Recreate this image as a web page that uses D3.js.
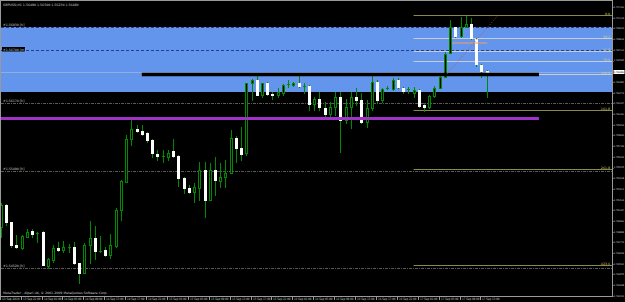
<!DOCTYPE html>
<html><head><meta charset="utf-8">
<script src="https://cdn.jsdelivr.net/npm/d3@7"></script>
<style>html,body{margin:0;padding:0;background:#000;overflow:hidden}</style>
</head><body>
<svg id="c" width="625" height="302"></svg>
<script>
const symbolTitle = "GBPUSD,H1  1.56490 1.56500 1.56230 1.56480";
const copyright = "MetaTrader - Alpari UK, \u00A9 2001-2009 MetaQuotes Software Corp.";
const timeLabels = ["13 Sep 2010","13 Sep 21:00","14 Sep 01:00","14 Sep 05:00","14 Sep 09:00","14 Sep 13:00","14 Sep 17:00","14 Sep 21:00","15 Sep 01:00","15 Sep 05:00","15 Sep 09:00","15 Sep 13:00","15 Sep 17:00","15 Sep 21:00","16 Sep 01:00","16 Sep 05:00","16 Sep 09:00","16 Sep 13:00","16 Sep 17:00","16 Sep 21:00","17 Sep 01:00","17 Sep 05:00","17 Sep 09:00","17 Sep 13:00"];
const timeLabelBars = [0,4,8,12,16,20,24,28,32,36,40,44,48,52,56,60,64,68,72,76,80,84,88,92];

const opens = [1.5493,1.5515,1.5498,1.5475,1.5472,1.5483,1.5489,1.5487,1.5488,1.5454,
1.5460,1.5472,1.5470,1.5473,1.5473,1.5457,1.5447,1.5475,1.5482,1.5469,
1.5470,1.5465,1.5474,1.5510,1.5538,1.5581,1.5591,1.5589,1.5587,1.5580,
1.5566,1.5564,1.5563,1.5569,1.5564,1.5542,1.5532,1.5528,1.5532,1.5550,
1.5520,1.5550,1.5539,1.5543,1.5547,1.5582,1.5572,1.5567,1.5637,1.5640,
1.5625,1.5637,1.5626,1.5625,1.5627,1.5636,1.5635,1.5637,1.5634,1.5634,
1.5616,1.5621,1.5612,1.5606,1.5613,1.5623,1.5600,1.5613,1.5623,1.5620,
1.5598,1.5612,1.5638,1.5620,1.5632,1.5631,1.5640,1.5632,1.5631,1.5627,
1.5630,1.5615,1.5613,1.5624,1.5632,1.5643,1.5667,1.5693,1.5684,1.5693,
1.5696,1.5681,1.5655,1.5649];
const highs = [1.5517,1.5516,1.5498,1.5485,1.5485,1.5491,1.5491,1.5488,1.5489,1.5462,
1.5475,1.5478,1.5479,1.5476,1.5478,1.5457,1.5477,1.5499,1.5494,1.5484,
1.5473,1.5486,1.5512,1.5540,1.5585,1.5602,1.5595,1.5595,1.5588,1.5581,
1.5570,1.5570,1.5570,1.5581,1.5565,1.5543,1.5535,1.5537,1.5558,1.5558,
1.5557,1.5563,1.5557,1.5560,1.5590,1.5584,1.5593,1.5637,1.5641,1.5647,
1.5637,1.5638,1.5628,1.5632,1.5636,1.5640,1.5638,1.5647,1.5637,1.5635,
1.5623,1.5628,1.5618,1.5618,1.5628,1.5628,1.5621,1.5628,1.5632,1.5627,
1.5620,1.5647,1.5640,1.5632,1.5634,1.5642,1.5642,1.5633,1.5633,1.5633,
1.5631,1.5617,1.5625,1.5634,1.5644,1.5668,1.5700,1.5693,1.5703,1.5704,
1.5702,1.5682,1.5656,1.5650];
const lows = [1.5483,1.5495,1.5473,1.5472,1.5471,1.5483,1.5483,1.5478,1.5455,1.5452,
1.5458,1.5469,1.5468,1.5468,1.5456,1.5437,1.5447,1.5457,1.5461,1.5468,
1.5464,1.5462,1.5473,1.5500,1.5538,1.5575,1.5588,1.5585,1.5578,1.5563,
1.5560,1.5558,1.5560,1.5563,1.5534,1.5527,1.5527,1.5518,1.5520,1.5503,
1.5520,1.5525,1.5533,1.5533,1.5547,1.5558,1.5560,1.5565,1.5620,1.5625,
1.5623,1.5625,1.5621,1.5623,1.5625,1.5633,1.5634,1.5633,1.5627,1.5610,
1.5610,1.5610,1.5603,1.5601,1.5605,1.5568,1.5597,1.5592,1.5615,1.5597,
1.5593,1.5610,1.5618,1.5618,1.5631,1.5630,1.5632,1.5627,1.5627,1.5623,
1.5613,1.5609,1.5612,1.5623,1.5632,1.5643,1.5667,1.5683,1.5683,1.5693,
1.5681,1.5654,1.5643,1.5623];
const closes = [1.5515,1.5498,1.5475,1.5473,1.5484,1.5488,1.5486,1.5487,1.5455,1.5461,
1.5472,1.5470,1.5473,1.5473,1.5457,1.5447,1.5475,1.5482,1.5469,1.5469,
1.5465,1.5475,1.5510,1.5539,1.5581,1.5591,1.5589,1.5586,1.5580,1.5567,
1.5564,1.5564,1.5567,1.5564,1.5542,1.5532,1.5528,1.5533,1.5550,1.5520,
1.5550,1.5540,1.5543,1.5547,1.5582,1.5572,1.5566,1.5637,1.5640,1.5625,
1.5637,1.5626,1.5625,1.5628,1.5635,1.5636,1.5637,1.5634,1.5634,1.5616,
1.5621,1.5613,1.5606,1.5613,1.5623,1.5600,1.5613,1.5623,1.5620,1.5598,
1.5612,1.5638,1.5620,1.5631,1.5632,1.5640,1.5633,1.5629,1.5631,1.5630,
1.5614,1.5613,1.5624,1.5632,1.5643,1.5666,1.5693,1.5684,1.5693,1.5696,
1.5682,1.5656,1.5649,1.5648];

const priceTicks = [1.57130,1.57023,1.56916,1.56809,1.56702,1.56595,1.56488,1.56381,1.56274,1.56167,1.56060,1.55953,1.55846,1.55739,1.55632,1.55525,1.55418,1.55311,1.55204,1.55097,1.54990,1.54883,1.54776,1.54669,1.54562,1.54455,1.54348,1.54241];

const zonePrices = [1.5693, 1.5628];
const dashedLevels = [1.5693, 1.5670, 1.5617, 1.5549, 1.5452];
const dashedLabels = ["#1.56930 [h]", "#1.56700 [m]", "#1.56170 [h]", "#1.55490 [h]", "#1.54520 [h]"];
const blackLine = {price: 1.56455, from: 27, to: 103};
const purpleLine = {price: 1.56015, from: 0, to: 103};
const orangeLine = {price: 1.5677, from: 86.4, to: 93.1};
const fiboHigh = 1.5705, fiboLow = 1.5646, fiboStartBar = 79;
const fiboLevels = [0, 38.2, 61.8, 78.6, 100, 161.8, 261.8, 423.6];
const fiboText = ["0.0","38.2","61.8","78.6","100.0","161.8","261.8","423.6"];
const fiboTrend = [{bar: 85.4, price: 1.5646}, {bar: 95.2, price: 1.5705}];

const W = 625, H = 302, plotR = 612, plotB = 296;
const svg = d3.select("#c");
const x = d3.scaleLinear().domain([0, 93]).range([0.7, 486.7]);
const y = d3.scaleLinear().domain([1.5424, 1.5720]).range([plotB, 0]);
const font = "'DejaVu Sans', sans-serif";
const fs = 3.2, fsAxis = 2.5;

svg.append("rect").attr("width", W).attr("height", H).attr("fill", "#000");

// blue zone
svg.append("rect").attr("x", 1).attr("width", plotR - 1)
  .attr("y", y(zonePrices[0])).attr("height", y(zonePrices[1]) - y(zonePrices[0]))
  .attr("fill", "#6495ed");

// dashed level lines
dashedLevels.forEach((p, k) => {
  const inZone = p <= zonePrices[0] && p >= zonePrices[1];
  svg.append("line").attr("x1", 1).attr("x2", plotR)
    .attr("y1", Math.round(y(p)) + 0.5).attr("y2", Math.round(y(p)) + 0.5)
    .attr("stroke", inZone ? "#1f3f8f" : "#5a5a5a").attr("stroke-width", 1)
    .attr("stroke-dasharray", inZone ? "3,2" : "3,1,1,1");
});

// bid line
const last = closes[closes.length - 1];
svg.append("line").attr("x1", 1).attr("x2", plotR)
  .attr("y1", Math.round(y(last)) + 0.5).attr("y2", Math.round(y(last)) + 0.5)
  .attr("stroke", "#9db3d8").attr("stroke-width", 0.8);

// fibo lines
const fx0 = x(fiboStartBar);
fiboLevels.forEach((lv, k) => {
  const p = fiboHigh - (fiboHigh - fiboLow) * lv / 100;
  const olive = (lv === 0 || lv > 100);
  const yy = Math.round(y(p)) + 0.5;
  svg.append("line").attr("x1", fx0).attr("x2", plotR).attr("y1", yy).attr("y2", yy)
    .attr("stroke", olive ? "#8a8a48" : "#c8ccd4").attr("stroke-width", 1);
  svg.append("text").attr("x", plotR - 2).attr("y", yy - 0.8).attr("text-anchor", "end")
    .attr("font-family", font).attr("font-size", fs).attr("fill", "#d8d070").text(fiboText[k]);
});

// candles
const green = "#008a00";
const g = svg.append("g");
opens.forEach((o, i) => {
  const c = closes[i];
  const X = Math.round(x(i));
  g.append("line").attr("x1", X + 0.5).attr("x2", X + 0.5)
    .attr("y1", Math.round(y(highs[i]))).attr("y2", Math.round(y(lows[i])) + 1)
    .attr("stroke", green).attr("stroke-width", 1);
  const yt = Math.round(y(Math.max(o, c))), yb = Math.round(y(Math.min(o, c)));
  if (c > o) {
    g.append("rect").attr("x", X - 0.5).attr("width", 2).attr("y", yt + 0.5).attr("height", Math.max(0, yb - yt))
      .attr("fill", "#000").attr("stroke", green).attr("stroke-width", 1);
  } else if (c < o) {
    g.append("rect").attr("x", X - 1).attr("width", 3).attr("y", yt).attr("height", Math.max(1, yb - yt + 1))
      .attr("fill", "#fff");
  } else {
    g.append("line").attr("x1", X - 1).attr("x2", X + 2).attr("y1", yt + 0.5).attr("y2", yt + 0.5)
      .attr("stroke", green).attr("stroke-width", 1);
  }
});

// objects on top
function hline(o, color, w) {
  svg.append("line").attr("x1", Math.max(1, x(o.from))).attr("x2", x(o.to))
    .attr("y1", y(o.price)).attr("y2", y(o.price)).attr("stroke", color).attr("stroke-width", w);
}
hline(blackLine, "#000", 3.5);
hline(purpleLine, "#a032c8", 3);
hline(orangeLine, "#f0a060", 1.2);
svg.append("line").attr("x1", x(fiboTrend[0].bar)).attr("y1", y(fiboTrend[0].price))
  .attr("x2", x(fiboTrend[1].bar)).attr("y2", y(fiboTrend[1].price))
  .attr("stroke", "#c04848").attr("stroke-width", 0.8).attr("stroke-dasharray", "1,1.5");

// left labels on dashed lines
dashedLevels.forEach((p, k) => {
  const yy = y(p);
  if (k === 1) {
    svg.append("rect").attr("x", 2).attr("y", yy - 3).attr("width", 23).attr("height", 4.5).attr("fill", "#000");
  }
  svg.append("text").attr("x", 3).attr("y", yy - (k === 1 ? -0.5 : 1)).attr("font-family", font)
    .attr("font-size", fs).attr("fill", "#d0d0d0").text(dashedLabels[k]);
});

// frame and axes
svg.append("rect").attr("x", 0.5).attr("y", 0.5).attr("width", plotR).attr("height", plotB)
  .attr("fill", "none").attr("stroke", "#9a9a9a").attr("stroke-width", 1);

const lastY = y(last);
priceTicks.forEach(p => {
  const yy = y(p);
  if (Math.abs(yy - lastY) < 5) return;
  svg.append("line").attr("x1", plotR).attr("x2", plotR + 1.5).attr("y1", Math.round(yy) + 0.5).attr("y2", Math.round(yy) + 0.5)
    .attr("stroke", "#9a9a9a");
  svg.append("text").attr("x", plotR + 1.8).attr("y", yy + 0.9).attr("font-family", font)
    .attr("font-size", fsAxis).attr("fill", "#d0d0d0").text(d3.format(".5f")(p));
});
svg.append("rect").attr("x", plotR + 1.5).attr("y", lastY - 2).attr("width", 11).attr("height", 4).attr("fill", "#fff");
svg.append("text").attr("x", plotR + 1.8).attr("y", lastY + 0.9).attr("font-family", font)
  .attr("font-size", fsAxis).attr("fill", "#000").text(d3.format(".5f")(last));

timeLabels.forEach((t, k) => {
  const xx = Math.round(x(timeLabelBars[k])) - 0.5;
  svg.append("line").attr("x1", xx).attr("x2", xx).attr("y1", plotB).attr("y2", plotB + 4)
    .attr("stroke", "#9a9a9a");
  svg.append("text").attr("x", xx + 1.5).attr("y", plotB + 3.6).attr("font-family", font)
    .attr("font-size", fs).attr("fill", "#d0d0d0")
    .attr("textLength", 17.5).attr("lengthAdjust", "spacingAndGlyphs").text(t);
});

svg.append("text").attr("x", 3).attr("y", 5.5).attr("font-family", font).attr("font-size", fs)
  .attr("fill", "#d0d0d0").text(symbolTitle);
svg.append("text").attr("x", 3).attr("y", plotB - 2.5).attr("font-family", font).attr("font-size", fs)
  .attr("fill", "#d0d0d0").text(copyright);
</script>
</body></html>
